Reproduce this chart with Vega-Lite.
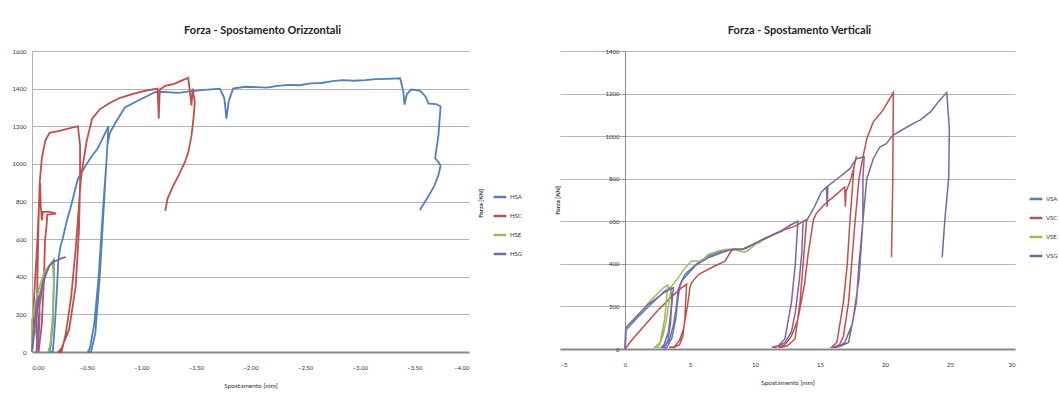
{
"$schema":"https://vega.github.io/schema/vega-lite/v6.json",
"background":"white",
"padding":{"left":12,"top":25,"right":0,"bottom":0},
"bounds":"flush",
"spacing":91,
"config":{"font":"Lato","view":{"stroke":null},
"axis":{"labelFont":"Lato","titleFont":"Lato","labelFontSize":6,"titleFontSize":6.5,"labelColor":"#333","titleColor":"#333","titleFontWeight":"normal","gridColor":"#b5b5b5","gridWidth":1.2},
"legend":{"labelFont":"Lato","labelFontSize":6,"labelColor":"#333","symbolType":"stroke","symbolStrokeWidth":2.5,"symbolSize":160,"rowPadding":6,"labelOffset":2},
"title":{"font":"Lato","fontSize":11,"fontWeight":"bold","color":"#222"}},
"resolve":{"scale":{"color":"independent"},"legend":{"color":"independent"}},
"datasets":{
"h":[
{"s":"HSA","i":1,"x":0,"y":0},{"s":"HSA","i":2,"x":-0.03,"y":150},{"s":"HSA","i":3,"x":-0.07,"y":300},{"s":"HSA","i":4,"x":-0.11,"y":400},{"s":"HSA","i":5,"x":-0.16,"y":460},{"s":"HSA","i":6,"x":-0.2,"y":490},{"s":"HSA","i":7,"x":-0.2,"y":350},{"s":"HSA","i":8,"x":-0.19,"y":150},{"s":"HSA","i":9,"x":-0.17,"y":30},{"s":"HSA","i":10,"x":-0.16,"y":0},{"s":"HSA","i":11,"x":-0.19,"y":0},{"s":"HSA","i":12,"x":-0.21,"y":150},{"s":"HSA","i":13,"x":-0.23,"y":350},{"s":"HSA","i":14,"x":-0.24,"y":480},{"s":"HSA","i":15,"x":-0.26,"y":560},{"s":"HSA","i":16,"x":-0.28,"y":600},{"s":"HSA","i":17,"x":-0.3,"y":650},{"s":"HSA","i":18,"x":-0.32,"y":700},{"s":"HSA","i":19,"x":-0.35,"y":760},{"s":"HSA","i":20,"x":-0.42,"y":920},{"s":"HSA","i":21,"x":-0.5,"y":1000},{"s":"HSA","i":22,"x":-0.55,"y":1043},{"s":"HSA","i":23,"x":-0.6,"y":1080},{"s":"HSA","i":24,"x":-0.65,"y":1140},{"s":"HSA","i":25,"x":-0.7,"y":1200},{"s":"HSA","i":26,"x":-0.68,"y":1000},{"s":"HSA","i":27,"x":-0.65,"y":760},{"s":"HSA","i":28,"x":-0.61,"y":400},{"s":"HSA","i":29,"x":-0.57,"y":150},{"s":"HSA","i":30,"x":-0.53,"y":20},{"s":"HSA","i":31,"x":-0.51,"y":0},{"s":"HSA","i":32,"x":-0.54,"y":0},{"s":"HSA","i":33,"x":-0.58,"y":100},{"s":"HSA","i":34,"x":-0.62,"y":400},{"s":"HSA","i":35,"x":-0.66,"y":800},{"s":"HSA","i":36,"x":-0.69,"y":1100},{"s":"HSA","i":37,"x":-0.71,"y":1160},{"s":"HSA","i":38,"x":-0.76,"y":1215},{"s":"HSA","i":39,"x":-0.85,"y":1300},{"s":"HSA","i":40,"x":-1.0,"y":1345},{"s":"HSA","i":41,"x":-1.13,"y":1382},{"s":"HSA","i":42,"x":-1.22,"y":1382},{"s":"HSA","i":43,"x":-1.34,"y":1377},{"s":"HSA","i":44,"x":-1.46,"y":1387},{"s":"HSA","i":45,"x":-1.58,"y":1393},{"s":"HSA","i":46,"x":-1.72,"y":1400},{"s":"HSA","i":47,"x":-1.76,"y":1350},{"s":"HSA","i":48,"x":-1.78,"y":1240},{"s":"HSA","i":49,"x":-1.8,"y":1330},{"s":"HSA","i":50,"x":-1.84,"y":1400},{"s":"HSA","i":51,"x":-1.95,"y":1410},{"s":"HSA","i":52,"x":-2.05,"y":1408},{"s":"HSA","i":53,"x":-2.15,"y":1405},{"s":"HSA","i":54,"x":-2.25,"y":1415},{"s":"HSA","i":55,"x":-2.35,"y":1420},{"s":"HSA","i":56,"x":-2.45,"y":1418},{"s":"HSA","i":57,"x":-2.55,"y":1428},{"s":"HSA","i":58,"x":-2.65,"y":1430},{"s":"HSA","i":59,"x":-2.75,"y":1440},{"s":"HSA","i":60,"x":-2.85,"y":1445},{"s":"HSA","i":61,"x":-2.95,"y":1442},{"s":"HSA","i":62,"x":-3.05,"y":1445},{"s":"HSA","i":63,"x":-3.15,"y":1450},{"s":"HSA","i":64,"x":-3.25,"y":1452},{"s":"HSA","i":65,"x":-3.37,"y":1455},{"s":"HSA","i":66,"x":-3.4,"y":1380},{"s":"HSA","i":67,"x":-3.41,"y":1315},{"s":"HSA","i":68,"x":-3.43,"y":1370},{"s":"HSA","i":69,"x":-3.47,"y":1395},{"s":"HSA","i":70,"x":-3.55,"y":1390},{"s":"HSA","i":71,"x":-3.6,"y":1360},{"s":"HSA","i":72,"x":-3.63,"y":1320},{"s":"HSA","i":73,"x":-3.7,"y":1318},{"s":"HSA","i":74,"x":-3.74,"y":1305},{"s":"HSA","i":75,"x":-3.72,"y":1150},{"s":"HSA","i":76,"x":-3.69,"y":1030},{"s":"HSA","i":77,"x":-3.72,"y":1010},{"s":"HSA","i":78,"x":-3.74,"y":990},{"s":"HSA","i":79,"x":-3.72,"y":940},{"s":"HSA","i":80,"x":-3.68,"y":880},{"s":"HSA","i":81,"x":-3.62,"y":820},{"s":"HSA","i":82,"x":-3.55,"y":755},
{"s":"HSC","i":1,"x":0,"y":0},{"s":"HSC","i":2,"x":-0.02,"y":300},{"s":"HSC","i":3,"x":-0.05,"y":600},{"s":"HSC","i":4,"x":-0.065,"y":800},{"s":"HSC","i":5,"x":-0.075,"y":900},{"s":"HSC","i":6,"x":-0.08,"y":780},{"s":"HSC","i":7,"x":-0.09,"y":700},{"s":"HSC","i":8,"x":-0.1,"y":745},{"s":"HSC","i":9,"x":-0.16,"y":745},{"s":"HSC","i":10,"x":-0.22,"y":735},{"s":"HSC","i":11,"x":-0.14,"y":730},{"s":"HSC","i":12,"x":-0.13,"y":650},{"s":"HSC","i":13,"x":-0.12,"y":600},{"s":"HSC","i":14,"x":-0.11,"y":400},{"s":"HSC","i":15,"x":-0.09,"y":150},{"s":"HSC","i":16,"x":-0.06,"y":0},{"s":"HSC","i":17,"x":-0.04,"y":100},{"s":"HSC","i":18,"x":-0.05,"y":400},{"s":"HSC","i":19,"x":-0.06,"y":700},{"s":"HSC","i":20,"x":-0.07,"y":900},{"s":"HSC","i":21,"x":-0.09,"y":1030},{"s":"HSC","i":22,"x":-0.12,"y":1120},{"s":"HSC","i":23,"x":-0.16,"y":1165},{"s":"HSC","i":24,"x":-0.25,"y":1175},{"s":"HSC","i":25,"x":-0.35,"y":1190},{"s":"HSC","i":26,"x":-0.42,"y":1200},{"s":"HSC","i":27,"x":-0.44,"y":1100},{"s":"HSC","i":28,"x":-0.44,"y":900},{"s":"HSC","i":29,"x":-0.43,"y":650},{"s":"HSC","i":30,"x":-0.4,"y":350},{"s":"HSC","i":31,"x":-0.34,"y":120},{"s":"HSC","i":32,"x":-0.27,"y":20},{"s":"HSC","i":33,"x":-0.24,"y":0},{"s":"HSC","i":34,"x":-0.27,"y":0},{"s":"HSC","i":35,"x":-0.31,"y":100},{"s":"HSC","i":36,"x":-0.36,"y":300},{"s":"HSC","i":37,"x":-0.4,"y":550},{"s":"HSC","i":38,"x":-0.43,"y":780},{"s":"HSC","i":39,"x":-0.45,"y":936},{"s":"HSC","i":40,"x":-0.5,"y":1120},{"s":"HSC","i":41,"x":-0.55,"y":1240},{"s":"HSC","i":42,"x":-0.62,"y":1290},{"s":"HSC","i":43,"x":-0.7,"y":1320},{"s":"HSC","i":44,"x":-0.8,"y":1350},{"s":"HSC","i":45,"x":-0.94,"y":1375},{"s":"HSC","i":46,"x":-1.05,"y":1390},{"s":"HSC","i":47,"x":-1.15,"y":1400},{"s":"HSC","i":48,"x":-1.16,"y":1240},{"s":"HSC","i":49,"x":-1.17,"y":1395},{"s":"HSC","i":50,"x":-1.22,"y":1415},{"s":"HSC","i":51,"x":-1.3,"y":1425},{"s":"HSC","i":52,"x":-1.38,"y":1445},{"s":"HSC","i":53,"x":-1.43,"y":1457},{"s":"HSC","i":54,"x":-1.46,"y":1310},{"s":"HSC","i":55,"x":-1.47,"y":1400},{"s":"HSC","i":56,"x":-1.49,"y":1330},{"s":"HSC","i":57,"x":-1.48,"y":1250},{"s":"HSC","i":58,"x":-1.46,"y":1150},{"s":"HSC","i":59,"x":-1.43,"y":1060},{"s":"HSC","i":60,"x":-1.4,"y":1010},{"s":"HSC","i":61,"x":-1.34,"y":936},{"s":"HSC","i":62,"x":-1.29,"y":880},{"s":"HSC","i":63,"x":-1.24,"y":814},{"s":"HSC","i":64,"x":-1.22,"y":750},
{"s":"HSE","i":1,"x":0,"y":0},{"s":"HSE","i":2,"x":0,"y":170},{"s":"HSE","i":3,"x":-0.03,"y":260},{"s":"HSE","i":4,"x":-0.07,"y":350},{"s":"HSE","i":5,"x":-0.11,"y":420},{"s":"HSE","i":6,"x":-0.15,"y":455},{"s":"HSE","i":7,"x":-0.19,"y":470},{"s":"HSE","i":8,"x":-0.2,"y":380},{"s":"HSE","i":9,"x":-0.19,"y":200},{"s":"HSE","i":10,"x":-0.17,"y":50},{"s":"HSE","i":11,"x":-0.15,"y":0},
{"s":"HSG","i":1,"x":0,"y":0},{"s":"HSG","i":2,"x":-0.02,"y":150},{"s":"HSG","i":3,"x":-0.04,"y":250},{"s":"HSG","i":4,"x":-0.06,"y":300},{"s":"HSG","i":5,"x":-0.07,"y":200},{"s":"HSG","i":6,"x":-0.06,"y":60},{"s":"HSG","i":7,"x":-0.04,"y":0},{"s":"HSG","i":8,"x":-0.05,"y":80},{"s":"HSG","i":9,"x":-0.07,"y":250},{"s":"HSG","i":10,"x":-0.09,"y":330},{"s":"HSG","i":11,"x":-0.12,"y":400},{"s":"HSG","i":12,"x":-0.16,"y":460},{"s":"HSG","i":13,"x":-0.2,"y":480},{"s":"HSG","i":14,"x":-0.24,"y":490},{"s":"HSG","i":15,"x":-0.28,"y":500},{"s":"HSG","i":16,"x":-0.31,"y":505}
],
"v":[
{"s":"VSA","i":1,"x":0,"y":0},{"s":"VSA","i":2,"x":0.1,"y":90},{"s":"VSA","i":3,"x":1,"y":150},{"s":"VSA","i":4,"x":2,"y":210},{"s":"VSA","i":5,"x":3,"y":270},{"s":"VSA","i":6,"x":3.5,"y":290},{"s":"VSA","i":7,"x":3.6,"y":240},{"s":"VSA","i":8,"x":3.5,"y":120},{"s":"VSA","i":9,"x":3.3,"y":40},{"s":"VSA","i":10,"x":3.0,"y":5},{"s":"VSA","i":11,"x":3.2,"y":5},{"s":"VSA","i":12,"x":3.6,"y":50},{"s":"VSA","i":13,"x":3.9,"y":140},{"s":"VSA","i":14,"x":4.1,"y":250},{"s":"VSA","i":15,"x":4.25,"y":300},{"s":"VSA","i":16,"x":4.6,"y":350},{"s":"VSA","i":17,"x":5.6,"y":405},{"s":"VSA","i":18,"x":6.4,"y":437},{"s":"VSA","i":19,"x":7.4,"y":458},{"s":"VSA","i":20,"x":8.3,"y":468},{"s":"VSA","i":21,"x":9.2,"y":470},{"s":"VSA","i":22,"x":10,"y":495},{"s":"VSA","i":23,"x":11,"y":525},{"s":"VSA","i":24,"x":12,"y":555},{"s":"VSA","i":25,"x":12.8,"y":585},
{"s":"VSC","i":1,"x":0,"y":0},{"s":"VSC","i":2,"x":0.5,"y":40},{"s":"VSC","i":3,"x":1.5,"y":110},{"s":"VSC","i":4,"x":2.5,"y":180},{"s":"VSC","i":5,"x":3.5,"y":240},{"s":"VSC","i":6,"x":4.36,"y":288},{"s":"VSC","i":7,"x":4.74,"y":304},{"s":"VSC","i":8,"x":4.65,"y":200},{"s":"VSC","i":9,"x":4.6,"y":140},{"s":"VSC","i":10,"x":4.45,"y":60},{"s":"VSC","i":11,"x":4.2,"y":20},{"s":"VSC","i":12,"x":3.8,"y":8},{"s":"VSC","i":13,"x":3.4,"y":8},{"s":"VSC","i":14,"x":3.8,"y":10},{"s":"VSC","i":15,"x":4.2,"y":40},{"s":"VSC","i":16,"x":4.5,"y":94},{"s":"VSC","i":17,"x":4.8,"y":200},{"s":"VSC","i":18,"x":5.0,"y":290},{"s":"VSC","i":19,"x":5.13,"y":312},{"s":"VSC","i":20,"x":5.64,"y":350},{"s":"VSC","i":21,"x":6.9,"y":390},{"s":"VSC","i":22,"x":7.7,"y":413},{"s":"VSC","i":23,"x":8.08,"y":452},{"s":"VSC","i":24,"x":8.33,"y":470},{"s":"VSC","i":25,"x":9,"y":468},{"s":"VSC","i":26,"x":10,"y":495},{"s":"VSC","i":27,"x":11,"y":525},{"s":"VSC","i":28,"x":12,"y":555},{"s":"VSC","i":29,"x":13,"y":575},{"s":"VSC","i":30,"x":13.97,"y":608},{"s":"VSC","i":31,"x":13.7,"y":400},{"s":"VSC","i":32,"x":13.46,"y":218},{"s":"VSC","i":33,"x":13.08,"y":47},{"s":"VSC","i":34,"x":12.5,"y":15},{"s":"VSC","i":35,"x":12.05,"y":8},{"s":"VSC","i":36,"x":11.8,"y":8},{"s":"VSC","i":37,"x":12.3,"y":20},{"s":"VSC","i":38,"x":12.8,"y":60},{"s":"VSC","i":39,"x":13.3,"y":140},{"s":"VSC","i":40,"x":13.8,"y":300},{"s":"VSC","i":41,"x":14.1,"y":452},{"s":"VSC","i":42,"x":14.5,"y":608},{"s":"VSC","i":43,"x":14.7,"y":635},{"s":"VSC","i":44,"x":15.26,"y":674},{"s":"VSC","i":45,"x":16.3,"y":729},{"s":"VSC","i":46,"x":16.9,"y":761},{"s":"VSC","i":47,"x":16.95,"y":668},{"s":"VSC","i":48,"x":17.0,"y":740},{"s":"VSC","i":49,"x":17.3,"y":784},{"s":"VSC","i":50,"x":17.6,"y":850},{"s":"VSC","i":51,"x":17.8,"y":906},{"s":"VSC","i":52,"x":17.6,"y":850},{"s":"VSC","i":53,"x":17.5,"y":760},{"s":"VSC","i":54,"x":17.3,"y":600},{"s":"VSC","i":55,"x":17.1,"y":400},{"s":"VSC","i":56,"x":16.8,"y":220},{"s":"VSC","i":57,"x":16.3,"y":31},{"s":"VSC","i":58,"x":15.9,"y":8},{"s":"VSC","i":59,"x":16.1,"y":8},{"s":"VSC","i":60,"x":16.5,"y":20},{"s":"VSC","i":61,"x":16.8,"y":60},{"s":"VSC","i":62,"x":17.2,"y":220},{"s":"VSC","i":63,"x":17.5,"y":450},{"s":"VSC","i":64,"x":17.7,"y":600},{"s":"VSC","i":65,"x":18.0,"y":800},{"s":"VSC","i":66,"x":18.3,"y":900},{"s":"VSC","i":67,"x":18.6,"y":988},{"s":"VSC","i":68,"x":19.1,"y":1067},{"s":"VSC","i":69,"x":19.85,"y":1122},{"s":"VSC","i":70,"x":20.64,"y":1205},{"s":"VSC","i":71,"x":20.6,"y":800},{"s":"VSC","i":72,"x":20.5,"y":431},
{"s":"VSE","i":1,"x":0,"y":0},{"s":"VSE","i":2,"x":0.1,"y":100},{"s":"VSE","i":3,"x":1,"y":160},{"s":"VSE","i":4,"x":2,"y":230},{"s":"VSE","i":5,"x":3,"y":290},{"s":"VSE","i":6,"x":3.3,"y":300},{"s":"VSE","i":7,"x":3.2,"y":240},{"s":"VSE","i":8,"x":3.05,"y":140},{"s":"VSE","i":9,"x":2.7,"y":31},{"s":"VSE","i":10,"x":2.3,"y":8},{"s":"VSE","i":11,"x":2.56,"y":8},{"s":"VSE","i":12,"x":2.9,"y":60},{"s":"VSE","i":13,"x":3.2,"y":140},{"s":"VSE","i":14,"x":3.4,"y":230},{"s":"VSE","i":15,"x":3.6,"y":296},{"s":"VSE","i":16,"x":4.0,"y":327},{"s":"VSE","i":17,"x":4.6,"y":380},{"s":"VSE","i":18,"x":5.13,"y":413},{"s":"VSE","i":19,"x":5.9,"y":413},{"s":"VSE","i":20,"x":6.4,"y":444},{"s":"VSE","i":21,"x":7.2,"y":460},{"s":"VSE","i":22,"x":7.7,"y":468},{"s":"VSE","i":23,"x":8.3,"y":470},{"s":"VSE","i":24,"x":8.8,"y":460},{"s":"VSE","i":25,"x":9.2,"y":455},{"s":"VSE","i":26,"x":9.5,"y":465},{"s":"VSE","i":27,"x":10,"y":490},{"s":"VSE","i":28,"x":10.5,"y":505},
{"s":"VSG","i":1,"x":0,"y":0},{"s":"VSG","i":2,"x":0.05,"y":100},{"s":"VSG","i":3,"x":1,"y":160},{"s":"VSG","i":4,"x":1.8,"y":210},{"s":"VSG","i":5,"x":3,"y":265},{"s":"VSG","i":6,"x":3.72,"y":288},{"s":"VSG","i":7,"x":3.59,"y":203},{"s":"VSG","i":8,"x":3.33,"y":78},{"s":"VSG","i":9,"x":3.0,"y":20},{"s":"VSG","i":10,"x":2.8,"y":8},{"s":"VSG","i":11,"x":3.0,"y":8},{"s":"VSG","i":12,"x":3.4,"y":40},{"s":"VSG","i":13,"x":3.72,"y":109},{"s":"VSG","i":14,"x":3.95,"y":200},{"s":"VSG","i":15,"x":4.1,"y":281},{"s":"VSG","i":16,"x":4.36,"y":320},{"s":"VSG","i":17,"x":5.38,"y":390},{"s":"VSG","i":18,"x":6.4,"y":429},{"s":"VSG","i":19,"x":7.4,"y":452},{"s":"VSG","i":20,"x":8.2,"y":468},{"s":"VSG","i":21,"x":9.0,"y":468},{"s":"VSG","i":22,"x":9.8,"y":490},{"s":"VSG","i":23,"x":10.8,"y":522},{"s":"VSG","i":24,"x":12.05,"y":553},{"s":"VSG","i":25,"x":12.8,"y":585},{"s":"VSG","i":26,"x":13.3,"y":600},{"s":"VSG","i":27,"x":13.1,"y":400},{"s":"VSG","i":28,"x":12.8,"y":218},{"s":"VSG","i":29,"x":12.3,"y":47},{"s":"VSG","i":30,"x":11.8,"y":15},{"s":"VSG","i":31,"x":11.3,"y":8},{"s":"VSG","i":32,"x":11.6,"y":8},{"s":"VSG","i":33,"x":12.3,"y":30},{"s":"VSG","i":34,"x":12.8,"y":80},{"s":"VSG","i":35,"x":13.1,"y":172},{"s":"VSG","i":36,"x":13.4,"y":320},{"s":"VSG","i":37,"x":13.6,"y":452},{"s":"VSG","i":38,"x":13.7,"y":600},{"s":"VSG","i":39,"x":14.0,"y":605},{"s":"VSG","i":40,"x":14.5,"y":659},{"s":"VSG","i":41,"x":15.1,"y":737},{"s":"VSG","i":42,"x":15.5,"y":761},{"s":"VSG","i":43,"x":15.55,"y":667},{"s":"VSG","i":44,"x":15.6,"y":765},{"s":"VSG","i":45,"x":16.5,"y":808},{"s":"VSG","i":46,"x":17.3,"y":847},{"s":"VSG","i":47,"x":17.8,"y":894},{"s":"VSG","i":48,"x":18.2,"y":900},{"s":"VSG","i":49,"x":18.4,"y":902},{"s":"VSG","i":50,"x":18.3,"y":800},{"s":"VSG","i":51,"x":18.3,"y":600},{"s":"VSG","i":52,"x":18.0,"y":400},{"s":"VSG","i":53,"x":17.8,"y":220},{"s":"VSG","i":54,"x":17.2,"y":31},{"s":"VSG","i":55,"x":16.5,"y":12},{"s":"VSG","i":56,"x":16.0,"y":8},{"s":"VSG","i":57,"x":16.3,"y":8},{"s":"VSG","i":58,"x":16.9,"y":30},{"s":"VSG","i":59,"x":17.5,"y":120},{"s":"VSG","i":60,"x":18.0,"y":330},{"s":"VSG","i":61,"x":18.3,"y":600},{"s":"VSG","i":62,"x":18.6,"y":800},{"s":"VSG","i":63,"x":19.1,"y":894},{"s":"VSG","i":64,"x":19.6,"y":949},{"s":"VSG","i":65,"x":20.1,"y":965},{"s":"VSG","i":66,"x":20.6,"y":1004},{"s":"VSG","i":67,"x":21.7,"y":1043},{"s":"VSG","i":68,"x":22.4,"y":1067},{"s":"VSG","i":69,"x":22.7,"y":1075},{"s":"VSG","i":70,"x":23.5,"y":1114},{"s":"VSG","i":71,"x":24.1,"y":1161},{"s":"VSG","i":72,"x":24.75,"y":1205},{"s":"VSG","i":73,"x":24.95,"y":1035},{"s":"VSG","i":74,"x":24.9,"y":805},{"s":"VSG","i":75,"x":24.6,"y":604},{"s":"VSG","i":76,"x":24.4,"y":431}
]},
"hconcat":[
{"width":437,"height":301,
"title":{"text":"Forza - Spostamento Orizzontali","dx":12,"offset":12},
"data":{"name":"h"},
"mark":{"type":"line","strokeWidth":1.8},
"encoding":{
"x":{"field":"x","type":"quantitative","scale":{"domain":[-4,0],"reverse":true,"nice":false,"zero":false},
"axis":{"values":[0,-0.5,-1,-1.5,-2,-2.5,-3,-3.5,-4],"format":".2f","grid":false,"ticks":false,"labelPadding":12,"domainColor":"#8a8a8a","domainWidth":2,"title":"Spostamento [mm]","titlePadding":12}},
"y":{"field":"y","type":"quantitative","scale":{"domain":[0,1600],"nice":false},
"axis":{"values":[0,200,400,600,800,1000,1200,1400,1600],"format":"d","grid":true,"ticks":false,"labelPadding":6,"domainColor":"#b0b0b0","domainWidth":1,"title":"Forza [KN]","titleX":448,"titleY":152,"titleAngle":-90,"titleAlign":"center","titleBaseline":"middle","titleFontWeight":"bold","titleFontSize":6}},
"color":{"field":"s","type":"nominal","scale":{"domain":["HSA","HSC","HSE","HSG"],"range":["#4F81BD","#C0504D","#9BBB59","#8064A2"]},
"legend":{"title":null,"orient":"none","legendX":460,"legendY":138}},
"order":{"field":"i","type":"quantitative"}}},
{"width":455,"height":298,
"title":{"text":"Forza - Spostamento Verticali","dx":12,"offset":12},
"data":{"name":"v"},
"mark":{"type":"line","strokeWidth":1.5},
"encoding":{
"x":{"field":"x","type":"quantitative","scale":{"domain":[-5,30],"nice":false,"zero":false},
"axis":{"values":[-5,0,5,10,15,20,25,30],"format":"d","grid":false,"ticks":false,"labelPadding":12,"domainColor":"#8a8a8a","domainWidth":2,"title":"Spostamento [mm]","titlePadding":12}},
"y":{"field":"y","type":"quantitative","scale":{"domain":[0,1400],"nice":false},
"axis":{"values":[0,200,400,600,800,1000,1200,1400],"format":"d","grid":true,"offset":-65,"ticks":true,"tickSize":3,"tickColor":"#8a8a8a","labelPadding":3,"domainColor":"#8a8a8a","domainWidth":1,"title":"Forza [KN]","titleX":-68,"titleY":149,"titleAngle":-90,"titleAlign":"center","titleBaseline":"middle","titleFontWeight":"bold","titleFontSize":6}},
"color":{"field":"s","type":"nominal","scale":{"domain":["VSA","VSC","VSE","VSG"],"range":["#4F81BD","#C0504D","#9BBB59","#8064A2"]},
"legend":{"title":null,"orient":"none","legendX":468,"legendY":140}},
"order":{"field":"i","type":"quantitative"}}}
]}
